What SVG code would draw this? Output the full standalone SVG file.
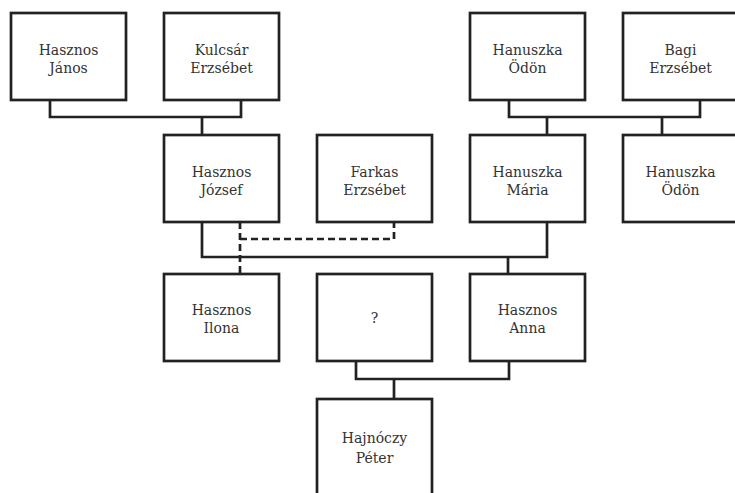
<svg xmlns="http://www.w3.org/2000/svg" width="735" height="493" viewBox="0 0 735 493">
<style>
.box{fill:#fff;stroke:#222;stroke-width:2.7}
.t{font-family:"DejaVu Serif","Liberation Serif",serif;font-size:14px;fill:#333;text-anchor:middle}
.c{fill:none;stroke:#222;stroke-width:2.7}
.d{fill:none;stroke:#222;stroke-width:2.7;stroke-dasharray:7 4}
</style>
<rect width="735" height="493" fill="#fff"/>
<g id="connectors">
<polyline class="c" points="50,100 50,117 241,117 241,100"/>
<line class="c" x1="202" y1="117" x2="202" y2="135"/>
<polyline class="c" points="509,100 509,117 700,117 700,100"/>
<line class="c" x1="547" y1="117" x2="547" y2="135"/>
<line class="c" x1="662" y1="117" x2="662" y2="135"/>
<polyline class="c" points="202,222 202,257 547,257 547,222"/>
<line class="c" x1="508" y1="257" x2="508" y2="274"/>
<line class="d" x1="240" y1="222" x2="240" y2="274"/>
<polyline class="d" points="240,239 394,239 394,222"/>
<polyline class="c" points="356,361 356,379 509,379 509,361"/>
<line class="c" x1="394" y1="379" x2="394" y2="399"/>
</g>
<g id="hasznos-janos"><rect class="box" x="11" y="13" width="115" height="87"/><text class="t" x="68.5" y="55">Hasznos</text><text class="t" x="68.5" y="73">János</text></g>
<g id="kulcsar-erzsebet"><rect class="box" x="164" y="13" width="115" height="87"/><text class="t" x="221.5" y="55">Kulcsár</text><text class="t" x="221.5" y="73">Erzsébet</text></g>
<g id="hanuszka-odon-1"><rect class="box" x="470" y="13" width="115" height="87"/><text class="t" x="527.5" y="55">Hanuszka</text><text class="t" x="527.5" y="73">Ödön</text></g>
<g id="bagi-erzsebet"><rect class="box" x="623" y="13" width="115" height="87"/><text class="t" x="680.5" y="55">Bagi</text><text class="t" x="680.5" y="73">Erzsébet</text></g>
<g id="hasznos-jozsef"><rect class="box" x="164" y="135" width="115" height="87"/><text class="t" x="221.5" y="177">Hasznos</text><text class="t" x="221.5" y="195">József</text></g>
<g id="farkas-erzsebet"><rect class="box" x="317" y="135" width="115" height="87"/><text class="t" x="374.5" y="177">Farkas</text><text class="t" x="374.5" y="195">Erzsébet</text></g>
<g id="hanuszka-maria"><rect class="box" x="470" y="135" width="115" height="87"/><text class="t" x="527.5" y="177">Hanuszka</text><text class="t" x="527.5" y="195">Mária</text></g>
<g id="hanuszka-odon-2"><rect class="box" x="623" y="135" width="115" height="87"/><text class="t" x="680.5" y="177">Hanuszka</text><text class="t" x="680.5" y="195">Ödön</text></g>
<g id="hasznos-ilona"><rect class="box" x="164" y="274" width="115" height="87"/><text class="t" x="221.5" y="315">Hasznos</text><text class="t" x="221.5" y="333">Ilona</text></g>
<g id="unknown"><rect class="box" x="317" y="274" width="115" height="87"/><text class="t" x="374.5" y="323">?</text></g>
<g id="hasznos-anna"><rect class="box" x="470" y="274" width="115" height="87"/><text class="t" x="527.5" y="315">Hasznos</text><text class="t" x="527.5" y="333">Anna</text></g>
<g id="hajnoczy-peter"><rect class="box" x="317" y="399" width="115" height="110"/><text class="t" x="374.5" y="443">Hajnóczy</text><text class="t" x="374.5" y="463">Péter</text></g>
</svg>
